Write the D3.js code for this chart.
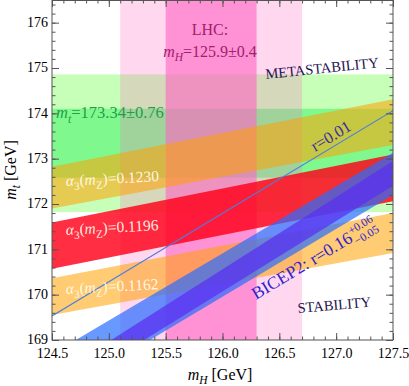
<!DOCTYPE html>
<html><head><meta charset="utf-8">
<script src="https://cdn.jsdelivr.net/npm/d3@7"></script>
<style>body{margin:0;background:#fff} text{font-family:"Liberation Serif","DejaVu Serif",serif}</style>
</head><body>
<script>
// ---- data ----
const mHRange = [124.5, 127.5];
const mtRange = [169, 176.5];
const higgsBands = [[125.1, 126.7], [125.5, 126.3]];      // LHC: 2σ, 1σ
const topBands = [[171.82, 174.86], [172.58, 174.10]];    // m_t: 2σ, 1σ
const alphaLabels = ["0.1230", "0.1196", "0.1162"];
// m_t at mH = 124.5 and 127.5
const alphaLow  = [[171.90, 173.30], [170.57, 172.06], [169.55, 170.92]];
const alphaHigh = [[172.82, 174.31], [171.59, 173.09], [170.36, 171.80]];
const bicepOuter = [[167.71, 172.20], [168.69, 173.13]];  // lower edge, upper edge
const bicepInner = [[167.74, 172.40], [168.17, 172.95]];
const rLine = [169.53, 174.06];
const xTicks = [124.5, 125.0, 125.5, 126.0, 126.5, 127.0, 127.5];
const yTicks = [169, 170, 171, 172, 173, 174, 175, 176];

// ---- layout ----
const W = 409, H = 386, L = 52, R = 393, T = 0, B = 340;
const x = d3.scaleLinear().domain(mHRange).range([L, R]);
const y = d3.scaleLinear().domain(mtRange).range([B, T]);

const svg = d3.select('body').append('svg').attr('width', W).attr('height', H);
svg.append('defs').append('clipPath').attr('id', 'clip')
  .append('rect').attr('x', L).attr('y', T).attr('width', R - L).attr('height', B - T);
const plot = svg.append('g').attr('clip-path', 'url(#clip)');

function bandPath(low, high) {
  const pts = [[mHRange[0], low[0]], [mHRange[1], low[1]], [mHRange[1], high[1]], [mHRange[0], high[0]]];
  return 'M' + pts.map(p => x(p[0]) + ',' + y(p[1])).join('L') + 'Z';
}

// top mass bands (horizontal)
const greenCols = [['rgb(70,255,20)', 0.3], ['rgb(20,240,80)', 0.4]];
topBands.forEach((b, i) => {
  plot.append('rect').attr('x', L).attr('width', R - L)
    .attr('y', y(b[1])).attr('height', y(b[0]) - y(b[1]))
    .attr('fill', greenCols[i][0]).attr('fill-opacity', greenCols[i][1]);
});
// higgs mass bands (vertical)
const pinkCols = [['rgb(255,100,195)', 0.25], ['rgb(255,100,195)', 0.6]];
higgsBands.forEach((b, i) => {
  plot.append('rect').attr('y', T).attr('height', B - T)
    .attr('x', x(b[0])).attr('width', x(b[1]) - x(b[0]))
    .attr('fill', pinkCols[i][0]).attr('fill-opacity', pinkCols[i][1]);
});
// alpha_s bands
const alphaCols = [['rgb(255,160,0)', 0.55], ['rgb(255,0,25)', 0.82], ['rgb(255,160,0)', 0.55]];
alphaLabels.forEach((a, i) => {
  plot.append('path').attr('d', bandPath(alphaLow[i], alphaHigh[i]))
    .attr('fill', alphaCols[i][0]).attr('fill-opacity', alphaCols[i][1]);
});
// BICEP2 bands
plot.append('path').attr('d', bandPath(bicepOuter[0], bicepOuter[1]))
  .attr('fill', 'rgb(40,110,255)').attr('fill-opacity', 0.7);
plot.append('path').attr('d', bandPath(bicepInner[0], bicepInner[1]))
  .attr('fill', 'rgb(90,50,240)').attr('fill-opacity', 0.75);
// r = 0.01 line
plot.append('line').attr('x1', x(mHRange[0])).attr('y1', y(rLine[0]))
  .attr('x2', x(mHRange[1])).attr('y2', y(rLine[1]))
  .attr('stroke', '#4a7fe0').attr('stroke-width', 1.1);

// ---- axes / frame ----
const tickCol = '#555';
function styleAxis(g) {
  g.select('.domain').remove();
  g.selectAll('line').attr('stroke', tickCol);
  g.selectAll('text').attr('font-size', 14).attr('fill', '#000')
    .attr('font-family', '"Liberation Serif","DejaVu Serif",serif');
}
const xMinor = x.ticks(30), yMinor = y.ticks(40);
svg.append('g').attr('transform', `translate(0,${B})`)
  .call(d3.axisBottom(x).tickValues(xMinor).tickFormat('').tickSizeInner(-3.5).tickSizeOuter(0)).call(styleAxis);
svg.append('g').attr('transform', `translate(0,${B})`)
  .call(d3.axisBottom(x).tickValues(xTicks).tickFormat(d3.format('.1f')).tickSizeInner(-7).tickSizeOuter(0).tickPadding(8)).call(styleAxis);
svg.append('g').attr('transform', `translate(0,${T})`)
  .call(d3.axisTop(x).tickValues(xMinor).tickFormat('').tickSizeInner(-3.5).tickSizeOuter(0)).call(styleAxis);
svg.append('g').attr('transform', `translate(0,${T})`)
  .call(d3.axisTop(x).tickValues(xTicks).tickFormat('').tickSizeInner(-7).tickSizeOuter(0)).call(styleAxis);
svg.append('g').attr('transform', `translate(${L},0)`)
  .call(d3.axisLeft(y).tickValues(yMinor).tickFormat('').tickSizeInner(-3.5).tickSizeOuter(0)).call(styleAxis);
const yAx = svg.append('g').attr('transform', `translate(${L},0)`)
  .call(d3.axisLeft(y).tickValues(yTicks).tickFormat(d3.format('d')).tickSizeInner(-7).tickSizeOuter(0).tickPadding(4)).call(styleAxis);
yAx.selectAll('text').attr('dy', '0.28em');
svg.append('g').attr('transform', `translate(${R},0)`)
  .call(d3.axisRight(y).tickValues(yMinor).tickFormat('').tickSizeInner(-3.5).tickSizeOuter(0)).call(styleAxis);
svg.append('g').attr('transform', `translate(${R},0)`)
  .call(d3.axisRight(y).tickValues(yTicks).tickFormat('').tickSizeInner(-7).tickSizeOuter(0)).call(styleAxis);
svg.append('rect').attr('x', L).attr('y', 0.5).attr('width', R - L).attr('height', B - 0.5)
  .attr('fill', 'none').attr('stroke', tickCol).attr('stroke-width', 1);

// ---- rich text helper ----
function rich(g, parts, size, color, anchor) {
  const t = g.append('text').attr('font-size', size).attr('fill', color).attr('text-anchor', anchor || 'start');
  let shift = 0;
  parts.forEach(p => {
    const s = t.append('tspan').text(p.t);
    if (p.i) s.attr('font-style', 'italic');
    const target = p.sub ? size * 0.28 : 0;
    if (target !== shift) { s.attr('dy', target - shift); shift = target; }
    if (p.sub) s.attr('font-size', size * 0.72);
  });
  return t;
}
function grp(px, py, ang) {
  return svg.append('g').attr('transform', `translate(${px},${py}) rotate(${ang || 0})`);
}

// axis titles
rich(grp(220, 380), [{t: 'm', i: 1}, {t: 'H', i: 1, sub: 1}, {t: ' [GeV]'}], 16, '#000', 'middle');
rich(grp(16, 170, -90), [{t: 'm', i: 1}, {t: 't', i: 1, sub: 1}, {t: ' [GeV]'}], 16, '#000', 'middle');

// LHC label
rich(grp(210, 35), [{t: 'LHC:'}], 16, '#a0206e', 'middle');
rich(grp(210, 57), [{t: 'm', i: 1}, {t: 'H', i: 1, sub: 1}, {t: '=125.9±0.4'}], 16, '#a0206e', 'middle');
// top mass label
rich(grp(56, 118), [{t: 'm', i: 1}, {t: 't', i: 1, sub: 1}, {t: '=173.34±0.76'}], 16.5, '#1fa048');
// alpha labels
const alphaPos = [[66, 186], [66, 235], [66, 294]];
alphaLabels.forEach((a, i) => {
  rich(grp(alphaPos[i][0], alphaPos[i][1], -3),
    [{t: 'α', i: 1}, {t: '3', sub: 1}, {t: '('}, {t: 'm', i: 1}, {t: 'Z', sub: 1}, {t: ')=' + a}],
    15.5, 'rgba(255,255,238,0.92)');
});
// region labels
rich(grp(266, 79, -6), [{t: 'METASTABILITY'}], 14.5, '#1e1450');
rich(grp(298, 313, -5), [{t: 'STABILITY'}], 14.5, '#1e1450');
rich(grp(315, 152, -31), [{t: 'r=0.01'}], 16.5, '#3c28a8');
// BICEP2 label with stacked scripts
const bg = grp(256, 300, -31);
const bt = rich(bg, [{t: 'BICEP2: r=0.16'}], 17.5, '#2e22d0');
const bw = bt.node().getComputedTextLength();
bg.append('text').attr('x', bw + 1).attr('y', -7).attr('font-size', 11.5).attr('fill', '#2e22d0').text('+0.06');
bg.append('text').attr('x', bw + 1).attr('y', 5).attr('font-size', 11.5).attr('fill', '#2e22d0').text('−0.05');
</script>
</body></html>
